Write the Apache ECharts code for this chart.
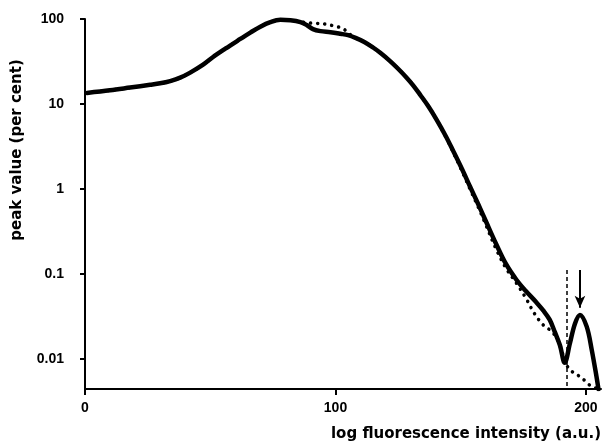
<!DOCTYPE html>
<html>
<head>
<meta charset="utf-8">
<script src="https://cdn.jsdelivr.net/npm/echarts@6/dist/echarts.min.js"></script>
<style>html,body{margin:0;padding:0;background:#fff;}#c{width:602px;height:448px;}</style>
</head>
<body>
<div id="c"></div>
<script>
// ---- data ----
const xSolid = [0.8, 10, 18, 26, 30, 34, 38, 42, 47, 51, 56, 62, 66, 70, 74, 78, 82, 86, 88.5, 91, 94, 98, 102, 105, 108, 111.5, 115, 118, 121.8, 125, 128.4, 131, 134, 137, 140.4, 144, 147, 150.5, 153.7, 157, 160, 164, 168, 172.3, 176, 180, 183, 185.5, 187.5, 189.6, 191.5, 193.6, 195.6, 197.6, 200.3, 202.3, 204.2, 205];
const ySolid = [13.5, 14.5, 15.6, 16.8, 17.5, 18.6, 20.4, 23.4, 28.8, 35.5, 44.7, 58.2, 69.2, 81.3, 91.8, 97.7, 96.6, 92, 85, 76, 72, 70, 67, 64.5, 60, 53.7, 46.2, 39.8, 32, 26, 20.4, 16.6, 12.6, 9.45, 6.5, 4.2, 2.8, 1.72, 1.07, 0.66, 0.42, 0.23, 0.132, 0.085, 0.063, 0.047, 0.037, 0.029, 0.021, 0.0145, 0.009, 0.0153, 0.026, 0.033, 0.024, 0.0128, 0.0062, 0.0044];
const xDotted = [0.8, 10, 18, 26, 30, 34, 38, 42, 47, 51, 56, 62, 66, 70, 74, 78, 82, 86, 88.6, 92, 96, 100, 103, 105.8, 108, 111.5, 115, 118, 121.8, 125, 128.4, 131, 134, 137, 140.4, 144, 147, 150.5, 153.7, 157, 160, 164, 168, 172.5, 176, 179.5, 183, 186.4, 188.8, 190.5, 191.6, 192.8, 195, 197.6, 200, 201.6, 204.8];
const yDotted = [13.5, 14.5, 15.6, 16.8, 17.5, 18.6, 20.4, 23.4, 28.8, 35.5, 44.7, 58.2, 69.2, 81.3, 91.8, 97.7, 96.6, 93, 90, 89, 87, 82, 77, 66, 60, 53.7, 46.2, 39.8, 32, 26, 20.4, 16.6, 12.6, 9.45, 6.5, 4.1, 2.7, 1.62, 1.0, 0.61, 0.38, 0.2, 0.118, 0.076, 0.052, 0.034, 0.025, 0.021, 0.0165, 0.012, 0.0095, 0.008, 0.0069, 0.0062, 0.0054, 0.0049, 0.0044];
const xTicks = [0, 100, 200];
const yTicks = [0.01, 0.1, 1, 10, 100];
const cutoffLine = [[192.5, 0.111], [192.5, 0.00443]];
const peakArrow = [[197.6, 0.111], [197.6, 0.04]];
const xTitle = 'log fluorescence intensity (a.u.)';
const yTitle = 'peak value (per cent)';

const pairs = (xs, ys) => xs.map((x, i) => [x, ys[i]]);

const chart = echarts.init(document.getElementById('c'), null, {renderer: 'canvas'});
const labelFont = {fontFamily: 'Liberation Sans', fontWeight: 'bold', fontSize: 14, color: '#000'};
chart.setOption({
  animation: false,
  backgroundColor: '#fff',
  grid: {left: 85, right: 1, top: 19, bottom: 59, outerBoundsMode: 'none', containLabel: false},
  xAxis: {
    type: 'value', min: 0, max: 206,
    axisLine: {show: true, lineStyle: {color: '#000', width: 2}},
    axisTick: {show: true, length: 6, lineStyle: {color: '#000', width: 2}, customValues: xTicks},
    axisLabel: Object.assign({margin: 12, customValues: xTicks, formatter: v => String(v)}, labelFont),
    splitLine: {show: false}
  },
  yAxis: {
    type: 'log', logBase: 10, min: 0.00443, max: 100, offset: 9,
    axisLine: {show: true, lineStyle: {color: '#000', width: 2}},
    axisTick: {show: true, length: 5, lineStyle: {color: '#000', width: 2}, customValues: yTicks},
    axisLabel: Object.assign({margin: 12, customValues: yTicks, formatter: v => String(+v.toPrecision(3))}, labelFont),
    splitLine: {show: false}
  },
  series: [
    {
      type: 'line', data: pairs(xDotted, yDotted), smooth: 0.35, showSymbol: false,
      lineStyle: {color: '#000', width: 3.5, type: [0.1, 7], cap: 'round'}, z: 2
    },
    {
      type: 'line', data: pairs(xSolid, ySolid), smooth: 0.35, showSymbol: false,
      lineStyle: {color: '#000', width: 4.5, cap: 'round', join: 'round'}, z: 3,
      markLine: {
        silent: true, animation: false, label: {show: false},
        data: [
          [{coord: cutoffLine[0], symbol: 'none', lineStyle: {type: [4, 3], width: 1.5, color: '#000'}},
           {coord: cutoffLine[1], symbol: 'none'}],
          [{coord: peakArrow[0], symbol: 'none', lineStyle: {type: 'solid', width: 2, color: '#000'}},
           {coord: peakArrow[1], symbol: 'arrow', symbolSize: [8, 12]}]
        ]
      }
    }
  ],
  graphic: [
    {type: 'text', x: 601, y: 434, style: {text: xTitle, fontFamily: 'DejaVu Sans', fontWeight: 'bold', fontSize: 15, fill: '#000', align: 'right', verticalAlign: 'middle'}},
    {type: 'text', x: 17, y: 150, rotation: Math.PI / 2, style: {text: yTitle, fontFamily: 'DejaVu Sans', fontWeight: 'bold', fontSize: 15, fill: '#000', align: 'center', verticalAlign: 'middle'}}
  ]
});
</script>
</body>
</html>
